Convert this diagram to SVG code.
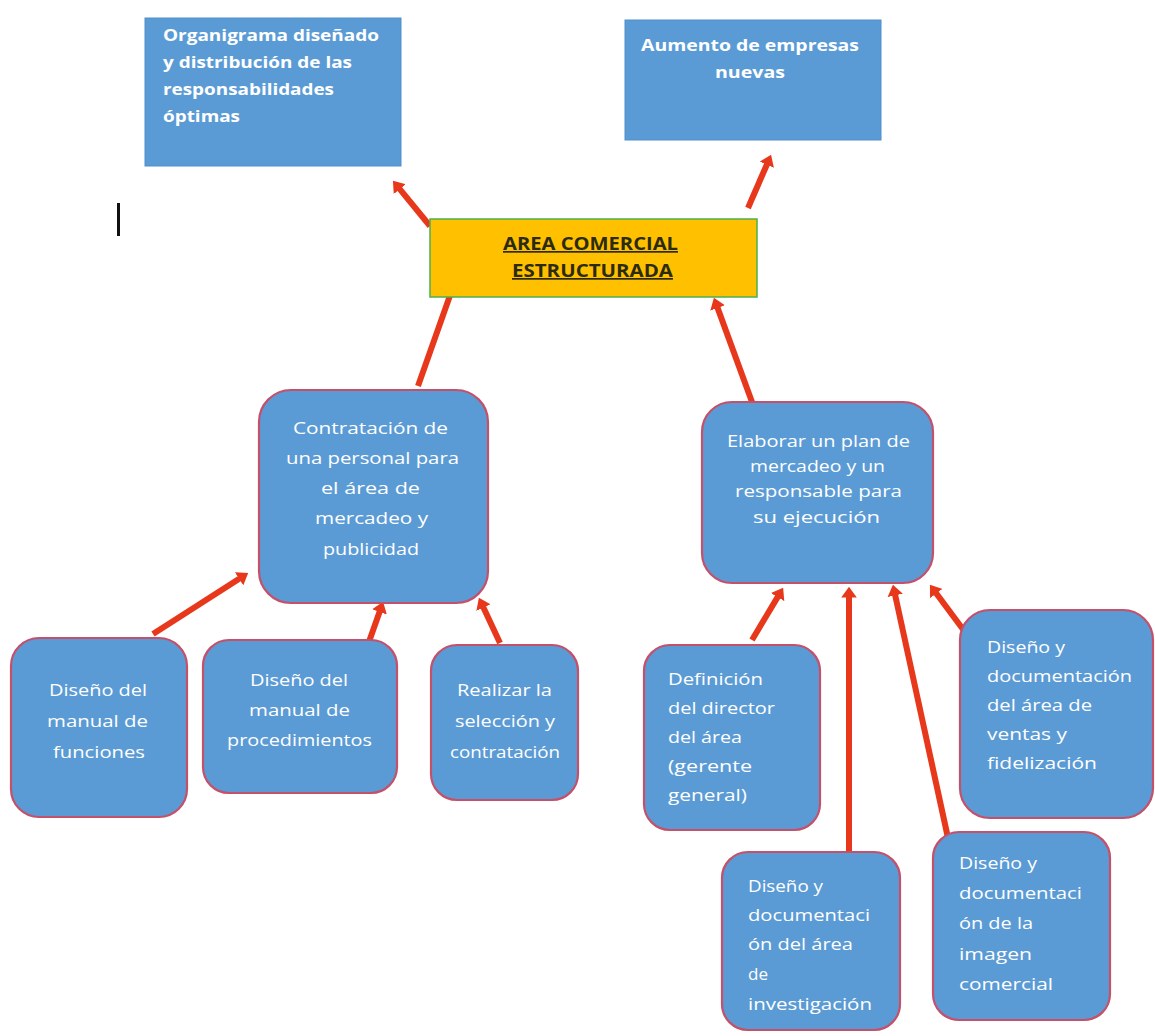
<svg xmlns="http://www.w3.org/2000/svg" width="1155" height="1036" viewBox="0 0 1155 1036">
<style>
.sq{fill:#5B9BD5;stroke:#4F8FCB;stroke-width:1}
.rb{fill:#5B9BD5;stroke:#C4506A;stroke-width:2.2}
.tb{font-family:"Open Sans","Liberation Sans",sans-serif;font-weight:bold;font-size:16px;fill:#fff}
.t{font-family:"Open Sans","Liberation Sans",sans-serif;font-size:16.5px;fill:#fff}
.hd{font-family:"Open Sans","Liberation Sans",sans-serif;font-weight:bold;font-size:17px;fill:#2b2b10;text-decoration:underline}
.ar{stroke:#E8381C;stroke-width:6;fill:none;marker-end:url(#ah)}
</style>
<defs>
<marker id="ah" markerWidth="1.8" markerHeight="2.6" refX="0.1" refY="1.3" orient="auto" markerUnits="strokeWidth">
<path d="M0,0 L1.8,1.3 L0,2.6 Z" fill="#E8381C"/>
</marker>
</defs>
<rect width="1155" height="1036" fill="#fff"/>
<rect x="117" y="203" width="3" height="33" fill="#111"/>
<g id="connectors">
<line class="ar" x1="430" y1="226" x2="399.4" y2="188.7"/>
<line class="ar" x1="748" y1="208" x2="767" y2="164.2"/>
<line class="ar" x1="418" y1="386" x2="450.7" y2="293.4"/>
<line class="ar" x1="752" y1="402" x2="717.4" y2="307.4"/>
<line class="ar" x1="153" y1="634" x2="239.6" y2="578.5"/>
<line class="ar" x1="365" y1="653" x2="379.7" y2="611.4"/>
<line class="ar" x1="500" y1="643" x2="483.2" y2="607.1"/>
<line class="ar" x1="752" y1="640" x2="777.9" y2="596.6"/>
<line class="ar" x1="849" y1="864" x2="849" y2="597"/>
<line class="ar" x1="948" y1="838" x2="895.1" y2="594.8"/>
<line class="ar" x1="965" y1="632" x2="936" y2="593"/>
</g>
<g id="n-organigrama">
<rect class="sq" x="145" y="18" width="256" height="148"/>
<text class="tb" x="163" y="41" textLength="216" lengthAdjust="spacingAndGlyphs">Organigrama diseñado</text>
<text class="tb" x="163" y="68" textLength="189" lengthAdjust="spacingAndGlyphs">y distribución de las</text>
<text class="tb" x="163" y="95" textLength="171" lengthAdjust="spacingAndGlyphs">responsabilidades</text>
<text class="tb" x="163" y="122" textLength="77" lengthAdjust="spacingAndGlyphs">óptimas</text>
</g>
<g id="n-aumento">
<rect class="sq" x="625" y="20" width="256" height="120"/>
<text class="tb" x="641" y="51" textLength="218" lengthAdjust="spacingAndGlyphs">Aumento de empresas</text>
<text class="tb" x="715" y="78" textLength="70" lengthAdjust="spacingAndGlyphs">nuevas</text>
</g>
<g id="n-area">
<rect x="430" y="219" width="327" height="78" fill="#FFC000" stroke="#4CAF50" stroke-width="1.5"/>
<text class="hd" x="503" y="250" textLength="175" lengthAdjust="spacingAndGlyphs">AREA COMERCIAL</text>
<text class="hd" x="512" y="277" textLength="161" lengthAdjust="spacingAndGlyphs">ESTRUCTURADA</text>
</g>
<g id="n-contratacion">
<rect class="rb" x="259" y="390" width="229" height="213" rx="32"/>
<text class="t" x="293" y="434" textLength="155" lengthAdjust="spacingAndGlyphs">Contratación de</text>
<text class="t" x="286" y="464" textLength="173" lengthAdjust="spacingAndGlyphs">una personal para</text>
<text class="t" x="321" y="494" textLength="99" lengthAdjust="spacingAndGlyphs">el área de</text>
<text class="t" x="315" y="524" textLength="113" lengthAdjust="spacingAndGlyphs">mercadeo y</text>
<text class="t" x="323" y="555" textLength="96" lengthAdjust="spacingAndGlyphs">publicidad</text>
</g>
<g id="n-elaborar">
<rect class="rb" x="702" y="402" width="231" height="181" rx="30"/>
<text class="t" x="727" y="447" textLength="183" lengthAdjust="spacingAndGlyphs">Elaborar un plan de</text>
<text class="t" x="750" y="472" textLength="135" lengthAdjust="spacingAndGlyphs">mercadeo y un</text>
<text class="t" x="735" y="497" textLength="167" lengthAdjust="spacingAndGlyphs">responsable para</text>
<text class="t" x="753" y="523" textLength="127" lengthAdjust="spacingAndGlyphs">su ejecución</text>
</g>
<g id="n-funciones">
<rect class="rb" x="11" y="638" width="176" height="179" rx="28"/>
<text class="t" x="49" y="696" textLength="98" lengthAdjust="spacingAndGlyphs">Diseño del</text>
<text class="t" x="47" y="727" textLength="101" lengthAdjust="spacingAndGlyphs">manual de</text>
<text class="t" x="53" y="758" textLength="92" lengthAdjust="spacingAndGlyphs">funciones</text>
</g>
<g id="n-procedimientos">
<rect class="rb" x="203" y="640" width="194" height="153" rx="26"/>
<text class="t" x="250" y="686" textLength="98" lengthAdjust="spacingAndGlyphs">Diseño del</text>
<text class="t" x="249" y="716" textLength="101" lengthAdjust="spacingAndGlyphs">manual de</text>
<text class="t" x="227" y="746" textLength="145" lengthAdjust="spacingAndGlyphs">procedimientos</text>
</g>
<g id="n-seleccion">
<rect class="rb" x="431" y="645" width="147" height="155" rx="26"/>
<text class="t" x="457" y="696" textLength="95" lengthAdjust="spacingAndGlyphs">Realizar la</text>
<text class="t" x="455" y="727" textLength="100" lengthAdjust="spacingAndGlyphs">selección y</text>
<text class="t" x="450" y="758" textLength="110" lengthAdjust="spacingAndGlyphs">contratación</text>
</g>
<g id="n-definicion">
<rect class="rb" x="644" y="645" width="176" height="185" rx="26"/>
<text class="t" x="668" y="685" textLength="95" lengthAdjust="spacingAndGlyphs">Definición</text>
<text class="t" x="668" y="714" textLength="107" lengthAdjust="spacingAndGlyphs">del director</text>
<text class="t" x="668" y="743" textLength="74" lengthAdjust="spacingAndGlyphs">del área</text>
<text class="t" x="668" y="772" textLength="84" lengthAdjust="spacingAndGlyphs">(gerente</text>
<text class="t" x="668" y="801" textLength="79" lengthAdjust="spacingAndGlyphs">general)</text>
</g>
<g id="n-ventas">
<rect class="rb" x="960" y="610" width="193" height="208" rx="30"/>
<text class="t" x="987" y="653" textLength="78" lengthAdjust="spacingAndGlyphs">Diseño y</text>
<text class="t" x="987" y="682" textLength="145" lengthAdjust="spacingAndGlyphs">documentación</text>
<text class="t" x="987" y="711" textLength="105" lengthAdjust="spacingAndGlyphs">del área de</text>
<text class="t" x="987" y="740" textLength="80" lengthAdjust="spacingAndGlyphs">ventas y</text>
<text class="t" x="987" y="769" textLength="110" lengthAdjust="spacingAndGlyphs">fidelización</text>
</g>
<g id="n-investigacion">
<rect class="rb" x="722" y="852" width="178" height="178" rx="26"/>
<text class="t" x="748" y="892" textLength="75" lengthAdjust="spacingAndGlyphs">Diseño y</text>
<text class="t" x="748" y="921" textLength="122" lengthAdjust="spacingAndGlyphs">documentaci</text>
<text class="t" x="748" y="950" textLength="105" lengthAdjust="spacingAndGlyphs">ón del área</text>
<text class="t" x="748" y="980" textLength="20" lengthAdjust="spacingAndGlyphs">de</text>
<text class="t" x="748" y="1010" textLength="124" lengthAdjust="spacingAndGlyphs">investigación</text>
</g>
<g id="n-imagen">
<rect class="rb" x="933" y="832" width="177" height="188" rx="26"/>
<text class="t" x="959" y="869" textLength="78" lengthAdjust="spacingAndGlyphs">Diseño y</text>
<text class="t" x="959" y="899" textLength="123" lengthAdjust="spacingAndGlyphs">documentaci</text>
<text class="t" x="959" y="929" textLength="74" lengthAdjust="spacingAndGlyphs">ón de la</text>
<text class="t" x="959" y="960" textLength="73" lengthAdjust="spacingAndGlyphs">imagen</text>
<text class="t" x="959" y="990" textLength="94" lengthAdjust="spacingAndGlyphs">comercial</text>
</g>
</svg>
